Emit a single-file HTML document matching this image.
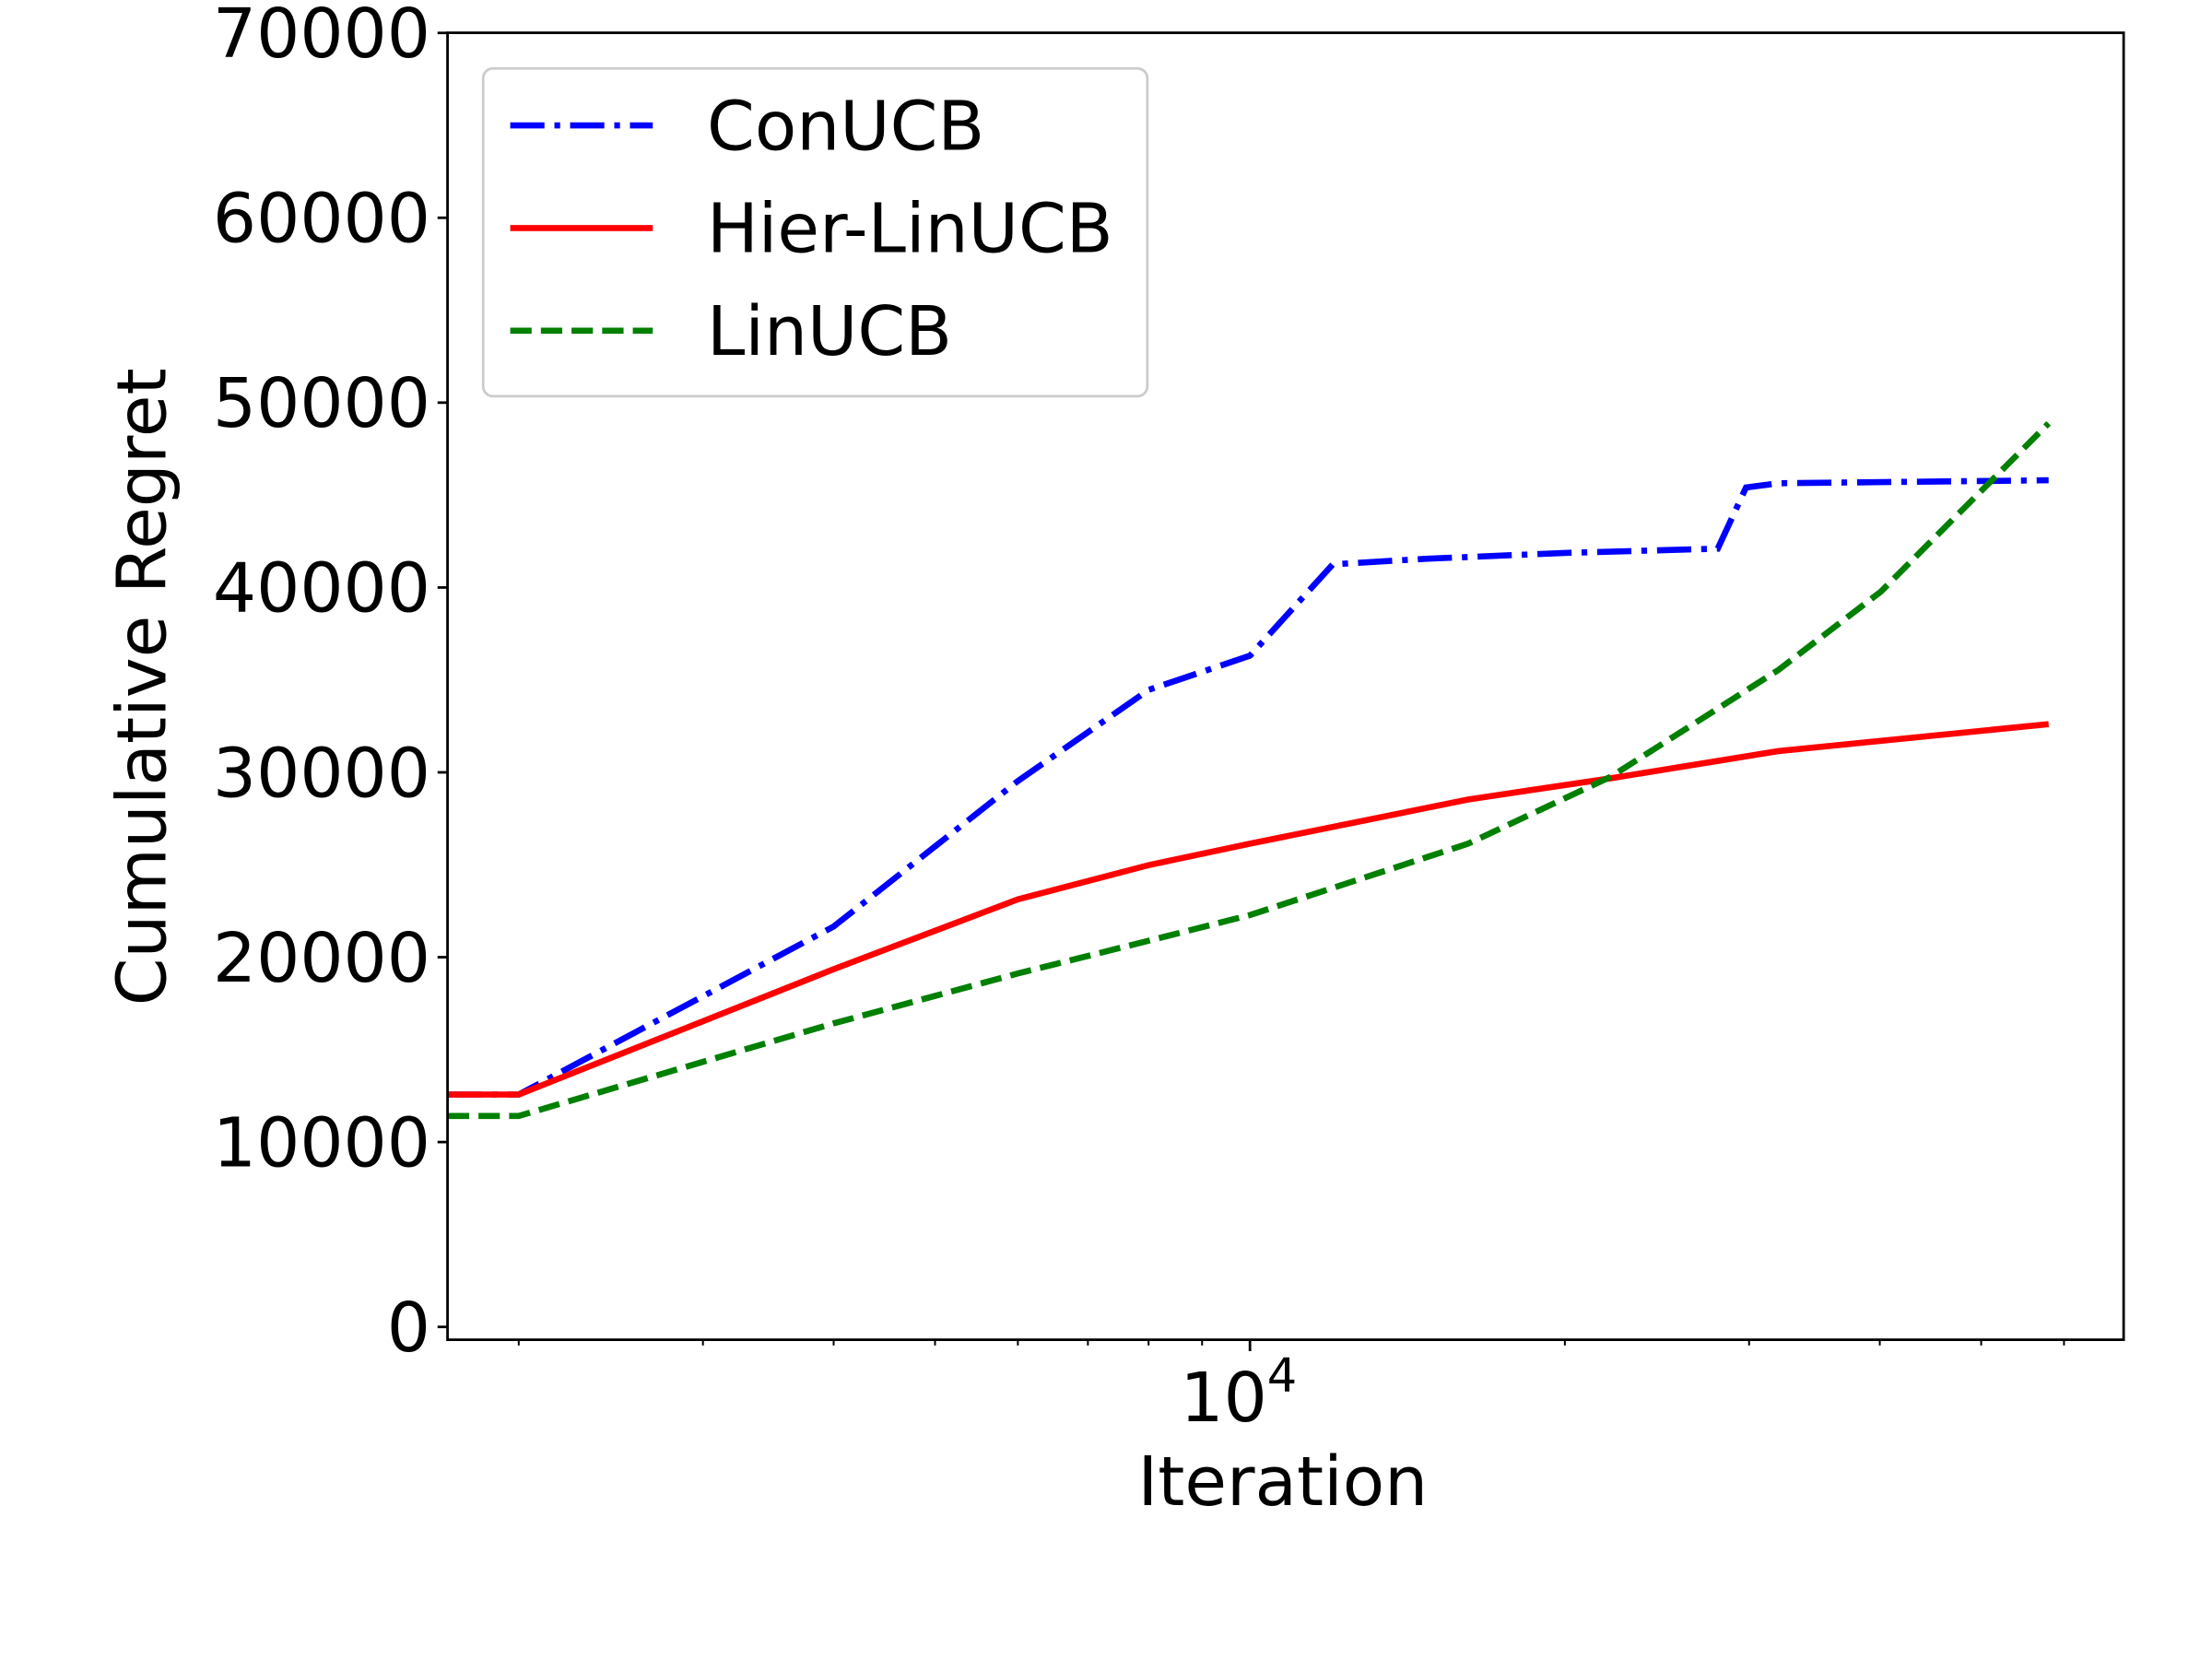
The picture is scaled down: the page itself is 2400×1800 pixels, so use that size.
<!DOCTYPE html>
<html><head><meta charset="utf-8"><style>html,body{margin:0;padding:0;background:#fff}svg{display:block}text{font-family:"DejaVu Sans","Liberation Sans",sans-serif;fill:#000}</style></head>
<body>
<svg id="chart" width="2400" height="1800" viewBox="0 0 1552 1164" xmlns="http://www.w3.org/2000/svg">
<rect width="1552" height="1164" fill="#fff"/>
<g id="plot"></g>
</svg>
<script>
const yTicks = [0,10000,20000,30000,40000,50000,60000,70000];
const xMinorTicks = [2000,3000,4000,5000,6000,7000,8000,9000,20000,30000,40000,50000,60000];
const conX = [1711,2000,4000,6000,8000,10000,12000,14700,20000,28000,29800,32000,58000];
const conY = [12570,12570,21660,29530,34460,36310,41250,41550,41870,42100,45410,45640,45800];
const hierX = [1711,2000,4000,6000,8000,10000,16160,22120,32000,58000];
const hierY = [12570,12570,19350,23130,24980,26140,28530,29680,31150,32610];
const linX = [1711,2000,4000,6000,8000,10000,16160,22120,32000,40100,58000];
const linY = [11410,11410,16420,19120,20890,22280,26140,29760,35540,39780,48880];

const NS='http://www.w3.org/2000/svg';
const L=314,R=1490,T=23,B=940;
function sx(v){return 877+(Math.log10(v)-4)*734;}
function sy(v){return 931-v/10000*129.7;}
const g=document.getElementById('plot');
function mk(tag,attrs,parent){const e=document.createElementNS(NS,tag);for(const k in attrs)e.setAttribute(k,attrs[k]);(parent||g).appendChild(e);return e;}

function line(xs,ys,color,dash,name){
  const p=mk('polyline',{points:xs.map((x,i)=>sx(x)+','+sy(ys[i])).join(' '),fill:'none',stroke:color,'stroke-width':4.3,'stroke-dasharray':dash});
  
  
}
line(conX,conY,'#0000ff','24,7,4,7','conucb-line');
line(hierX,hierY,'#ff0000','none','hier-linucb-line');
line(linX,linY,'#008000','15,6.5','linucb-line');

const fr=mk('rect',{x:L,y:T,width:R-L,height:B-T,fill:'none',stroke:'#000','stroke-width':1.8});



yTicks.forEach(v=>{
  const y=sy(v);
  const t=mk('line',{x1:L-7,x2:L,y1:y,y2:y,stroke:'#000','stroke-width':1.8});
  
  
  const tx=mk('text',{x:L-12,y:y+17,'text-anchor':'end','font-size':48});
  tx.textContent=v;
  
  
});
xMinorTicks.forEach(v=>{
  const x=sx(v);
  const t=mk('line',{x1:x,x2:x,y1:B,y2:B+4,stroke:'#000','stroke-width':1.3});
  
  
});
const mj=mk('line',{x1:sx(10000),x2:sx(10000),y1:B,y2:B+8,stroke:'#000','stroke-width':1.8});


const xl=mk('text',{x:sx(10000)-8,y:997,'text-anchor':'middle','font-size':48});
xl.innerHTML='10<tspan font-size="33" dy="-21">4</tspan>';


const xt=mk('text',{x:900,y:1056,'text-anchor':'middle','font-size':48});
xt.textContent='Iteration';


const yt=mk('text',{x:0,y:0,'text-anchor':'middle','font-size':48,transform:'translate(116,482) rotate(-90)'});
yt.textContent='Cumulative Regret';



const lg=mk('g',{});


mk('rect',{x:339,y:48,width:466,height:230,rx:7,fill:'#fff','fill-opacity':0.8,stroke:'#cccccc','stroke-width':1.8},lg);
const entries=[['ConUCB','#0000ff','24,7,4,7',88],['Hier-LinUCB','#ff0000','none',160],['LinUCB','#008000','15,6.5',232]];
entries.forEach(e=>{
  const s=mk('line',{x1:358,x2:458,y1:e[3],y2:e[3],stroke:e[1],'stroke-width':4.3,'stroke-dasharray':e[2]},lg);
  
  
  const t=mk('text',{x:496,y:e[3]+17,'font-size':48},lg);
  t.textContent=e[0];
  
  
});
</script>
</body></html>
